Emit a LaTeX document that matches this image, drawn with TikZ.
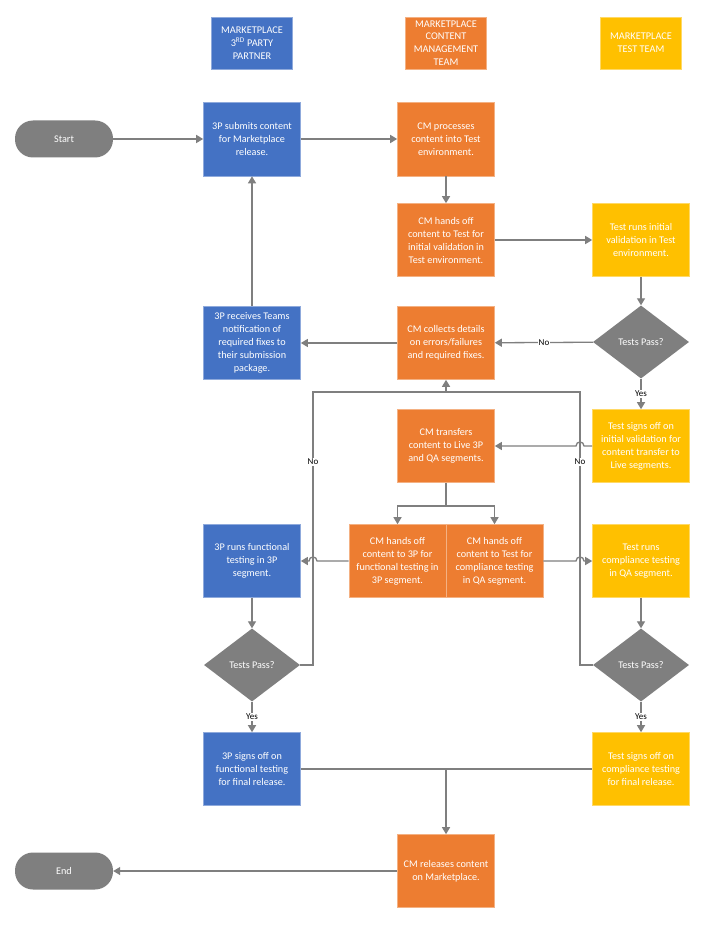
\documentclass[tikz,border=0pt]{standalone}
\usepackage{fontspec}
\setmainfont{Carlito}
\usetikzlibrary{arrows.meta,shapes.geometric}
\definecolor{bl}{HTML}{4472C4}
\definecolor{blb}{HTML}{8FAADC}
\definecolor{or}{HTML}{ED7D31}
\definecolor{orb}{HTML}{F4B183}
\definecolor{ye}{HTML}{FFC000}
\definecolor{yeb}{HTML}{FFD966}
\definecolor{gr}{HTML}{7F7F7F}
\tikzset{
  box/.style={rectangle, minimum width=97pt, minimum height=73pt, inner sep=0pt,
    align=center, text=white, font=\fontsize{10.2}{13}\selectfont, line width=0.6pt},
  bbox/.style={box, fill=bl, draw=blb},
  obox/.style={box, fill=or, draw=orb},
  ybox/.style={box, fill=ye, draw=yeb},
  hdr/.style={box, minimum width=81pt, minimum height=52pt, font=\fontsize{10.3}{12.8}\selectfont},
  term/.style={rectangle, rounded corners=18pt, fill=gr, minimum width=98pt, minimum height=37pt,
    inner sep=0pt, text=white, font=\fontsize{10.2}{12}\selectfont},
  dec/.style={diamond, fill=gr, minimum width=96pt, minimum height=73pt, inner sep=0pt,
    text=white, font=\fontsize{10.2}{12}\selectfont},
  conn/.style={draw=gr, line width=1.3pt, -{Triangle[length=7pt,width=8pt]}},
  plain/.style={draw=gr, line width=1.3pt},
  lbl/.style={fill=white, inner sep=1pt, text=black, font=\fontsize{9}{10}\selectfont},
}
\begin{document}
\begin{tikzpicture}[x=1pt,y=-1pt]
\useasboundingbox (0,0) rectangle (709,925);
\fill[white] (0,0) rectangle (709,925);

% headers
\node[hdr, fill=bl, draw=blb] (h1) at (252,43) {MARKETPLACE\\3\textsuperscript{RD} PARTY\\PARTNER};
\node[hdr, fill=or, draw=orb] (h2) at (446,43) {MARKETPLACE\\CONTENT\\MANAGEMENT\\TEAM};
\node[hdr, fill=ye, draw=yeb] (h3) at (641,43) {MARKETPLACE\\TEST TEAM};

% nodes
\node[term] (start) at (64,139) {Start};
\node[bbox, minimum height=74pt] (sub) at (252,139) {3P submits content\\for Marketplace\\release.};
\node[obox, minimum height=74pt] (proc) at (446,139) {CM processes\\content into Test\\environment.};
\node[obox] (hand1) at (446,240) {CM hands off\\content to Test for\\initial validation in\\Test environment.};
\node[ybox] (trun1) at (641,240) {Test runs initial\\validation in Test\\environment.};
\node[bbox] (recv) at (252,343) {3P receives Teams\\notification of\\required fixes to\\their submission\\package.};
\node[obox] (coll) at (446,343) {CM collects details\\on errors/failures\\and required fixes.};
\node[dec] (d1) at (641,342) {Tests Pass?};
\node[obox] (trans) at (446,446) {CM transfers\\content to Live 3P\\and QA segments.};
\node[ybox] (tsign1) at (641,446) {Test signs off on\\initial validation for\\content transfer to\\Live segments.};
\node[bbox] (func) at (252,561) {3P runs functional\\testing in 3P\\segment.};
\node[obox] (h3p) at (397.5,561) {CM hands off\\content to 3P for\\functional testing in\\3P segment.};
\node[obox] (hqa) at (494.5,561) {CM hands off\\content to Test for\\compliance testing\\in QA segment.};
\node[ybox] (comp) at (641,561) {Test runs\\compliance testing\\in QA segment.};
\node[dec] (d2) at (252,665) {Tests Pass?};
\node[dec] (d3) at (641,665) {Tests Pass?};
\node[bbox] (sign3p) at (252,769) {3P signs off on\\functional testing\\for final release.};
\node[ybox] (signt) at (641,769) {Test signs off on\\compliance testing\\for final release.};
\node[obox] (rel) at (446,871) {CM releases content\\on Marketplace.};
\node[term] (end) at (64,871) {End};

% junction coordinates
\coordinate (split) at (446,506);
\coordinate (cL) at (313,665);
\coordinate (cR) at (580,665);
\coordinate (loopL) at (313,392);
\coordinate (loopR) at (580,392);
\coordinate (merge) at (446,392);
\coordinate (join) at (446,769);

% connectors
\draw[conn] (start) -- (sub);
\draw[conn] (sub) -- (proc);
\draw[conn] (proc) -- (hand1);
\draw[conn] (hand1) -- (trun1);
\draw[conn] (trun1) -- (d1);
\draw[conn] (d1) -- node[lbl]{No} (coll);
\draw[conn] (coll) -- (recv);
\draw[conn] (recv) -- (sub);
\draw[conn] (d1) -- node[lbl]{Yes} (tsign1);
\draw[conn] (tsign1.west) -- (584,446) .. controls (584,440.7) and (576,440.7) .. (576,446) -- (trans.east);
\draw[plain] (trans) -- (split);
\draw[conn] (split) -| (h3p.north);
\draw[conn] (split) -| (hqa.north);
\draw[conn] (h3p.west) -- (317,561) .. controls (317,555.7) and (309,555.7) .. (309,561) -- (func.east);
\draw[conn] (hqa.east) -- (576,561) .. controls (576,555.7) and (584,555.7) .. (584,561) -- (comp.west);
\draw[conn] (func) -- (d2);
\draw[conn] (comp) -- (d3);
\draw[plain] (d2.east) -- (cL) -- node[lbl, pos=0.744]{No} (loopL) -- (merge);
\draw[plain] (d3.west) -- (cR) -- node[lbl, pos=0.744]{No} (loopR) -- (merge);
\draw[conn] (merge) -- (coll);
\draw[conn] (d2) -- node[lbl]{Yes} (sign3p);
\draw[conn] (d3) -- node[lbl]{Yes} (signt);
\draw[plain] (sign3p.east) -- (join) -- (signt.west);
\draw[conn] (join) -- (rel);
\draw[conn] (rel) -- (end);
\end{tikzpicture}
\end{document}
